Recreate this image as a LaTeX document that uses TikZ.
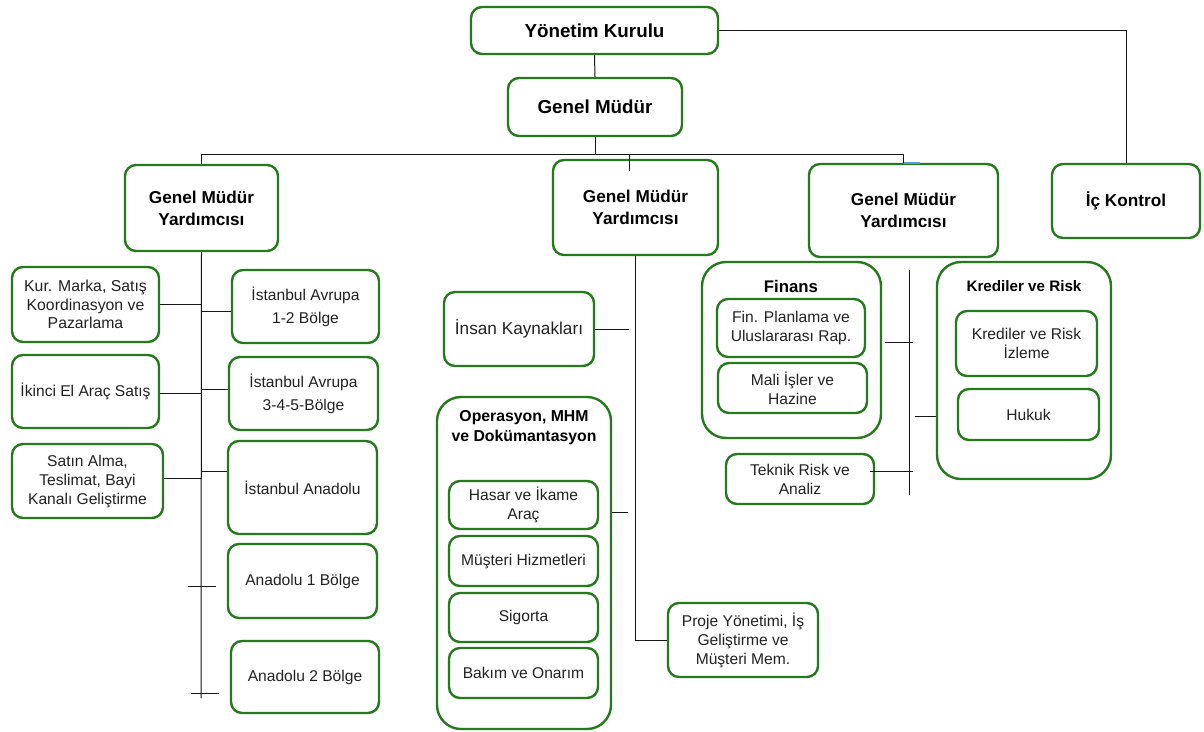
\documentclass[tikz,border=0pt]{standalone}
\usepackage{fontspec}
\setmainfont{Liberation Sans}
\usetikzlibrary{calc}
\definecolor{gg}{RGB}{38,122,30}
\definecolor{txt}{RGB}{34,34,34}
\definecolor{ln}{RGB}{20,20,20}
\tikzset{
  box/.style={draw=gg, line width=2.4pt, rounded corners=11pt, fill=white, inner sep=0pt, align=center, text=txt, font=\fontsize{15.6}{19}\selectfont},
  hbox/.style={box, text=black, font=\bfseries\fontsize{17.2}{22}\selectfont},
  cont/.style={box, rounded corners=24pt},
  ttl/.style={inner sep=0pt, align=center, text=black, font=\bfseries\fontsize{15.8}{20}\selectfont},
  conn/.style={draw=ln, line width=1pt},
}
\newcommand\bx[7]{\node[#6, minimum width={#4-#2}, minimum height={#5-#3}] (#1) at ({(#2+#4)/2},{(#3+#5)/2}) {#7};}
\begin{document}
\begin{tikzpicture}[x=1pt,y=-1pt]
\useasboundingbox[fill=white] (0,0) rectangle (1204,731);
% top
\bx{yk}{471}{7}{718}{54}{hbox, font=\bfseries\fontsize{18.8}{22}\selectfont}{Yönetim Kurulu}
\bx{gm}{508}{78}{682}{136}{hbox, font=\bfseries\fontsize{18.8}{22}\selectfont}{Genel Müdür}
\bx{lg}{125}{165}{278}{251}{hbox}{Genel Müdür\\Yardımcısı}
\bx{mg}{553}{160}{718}{255}{hbox}{Genel Müdür\\Yardımcısı}
\bx{rg}{809}{164}{998}{257}{hbox}{Genel Müdür\\Yardımcısı}
\bx{ic}{1052}{164}{1200}{238}{hbox}{İç Kontrol}
% left column
\bx{kur}{12}{267}{159}{342}{box, font=\fontsize{15.8}{18.5}\selectfont}{Kur. Marka, Satış\\Koordinasyon ve\\Pazarlama}
\bx{ikinci}{12}{355}{159}{428}{box}{İkinci El Araç Satış}
\bx{satin}{12}{444}{163}{518}{box}{Satın Alma,\\Teslimat, Bayi\\Kanalı Geliştirme}
\bx{ist1}{232}{270}{379}{343}{box, font=\fontsize{15.6}{23}\selectfont}{İstanbul Avrupa\\1-2 Bölge}
\bx{ist2}{229}{357}{378}{430}{box, font=\fontsize{15.6}{23}\selectfont}{İstanbul Avrupa\\3-4-5-Bölge}
\bx{ista}{228}{441}{377}{534}{box}{İstanbul Anadolu}
\bx{an1}{228}{544}{377}{618}{box}{Anadolu 1 Bölge}
\bx{an2}{231}{641}{379}{713}{box}{Anadolu 2 Bölge}
% middle column
\bx{ik}{444}{292}{594}{366}{box, font=\fontsize{17.2}{20}\selectfont}{İnsan Kaynakları}
\bx{op}{437}{397}{611}{729}{cont}{}
\node[ttl] (opt) at (524,428) {Operasyon, MHM\\ve Dokümantasyon};
\bx{has}{449}{481}{598}{529}{box}{Hasar ve İkame\\Araç}
\bx{mus}{449}{536}{598}{586}{box}{Müşteri Hizmetleri}
\bx{sig}{449}{593}{598}{642}{box}{Sigorta}
\bx{bak}{449}{648}{598}{698}{box}{Bakım ve Onarım}
\bx{pj}{668}{603}{818}{677}{box}{Proje Yönetimi, İş\\Geliştirme ve\\Müşteri Mem.}
% right column
\bx{fin}{702}{262}{881}{438}{cont}{}
\node[ttl, font=\bfseries\fontsize{16.8}{20}\selectfont] (fint) at (791,286) {Finans};
\bx{fp}{717}{299}{865}{357}{box}{Fin. Planlama ve\\Uluslararası Rap.}
\bx{mali}{718}{363}{867}{413}{box}{Mali İşler ve\\Hazine}
\bx{tek}{726}{454}{874}{504}{box}{Teknik Risk ve\\Analiz}
\bx{kr}{937}{262}{1111}{479}{cont}{}
\node[ttl, font=\bfseries\fontsize{15.2}{20}\selectfont] (krt) at (1024,286) {Krediler ve Risk};
\bx{kri}{956}{311}{1097}{376}{box}{Krediler ve Risk\\İzleme}
\bx{huk}{958}{389}{1099}{440}{box}{Hukuk}
% coordinates
\coordinate (busL) at (202,154);
\coordinate (lbot) at (201,698);
\coordinate (mgtop) at (629,171);
\coordinate (ikend) at (629,329);
\coordinate (opend) at (628,512);
\coordinate (rtop) at (909,270);
\coordinate (rbot) at (909,495);
% connectors
\draw[conn] (yk.south) -- (gm.north);
\draw[conn] (yk.east) -| (ic.north);
\draw[conn] (gm.south) -- (gm.south |- busL);
\draw[conn] (lg.north) -- (lg.north |- busL) -| (rg.north);
\draw[conn] (mgtop |- busL) -- (mgtop);
\draw[draw={rgb,255:red,91;green,155;blue,213}, line width=1.5pt] (rg.north) -- ++(16,0) coordinate (blu);
% left
\draw[conn] (lg.south) -- (lbot);
\draw[conn] (kur.east |- 0,304) -- (201.5,304);
\draw[conn] (ikinci.east |- 0,393) -- (201.5,393);
\draw[conn] (satin.east |- 0,478) -- (201.5,478);
\draw[conn] (ist1.west |- 0,311) -- (201.5,311);
\draw[conn] (ist2.west |- 0,389) -- (201.5,389);
\draw[conn] (ista.west |- 0,471) -- (201.5,471);
\coordinate (t1a) at (188,586); \coordinate (t1b) at (216,586);
\coordinate (t2a) at (191,693); \coordinate (t2b) at (219,693);
\draw[conn] (t1a) -- (t1b);
\draw[conn] (t2a) -- (t2b);
% middle
\draw[conn] (mg.south) -- (mg.south |- pj.west) -- (pj.west);
\draw[conn] (ik.east) -- (ikend);
\draw[conn] (op.east |- opend) -- (opend);
% right
\draw[conn] (rtop) -- (rbot);
\draw[conn] (fin.east |- 0,342) ++(3,0) -- (913,342);
\draw[conn] (915,416) -- (kr.west |- 0,416);
\draw[conn] (870,471) -- (913,471);
\end{tikzpicture}
\end{document}
